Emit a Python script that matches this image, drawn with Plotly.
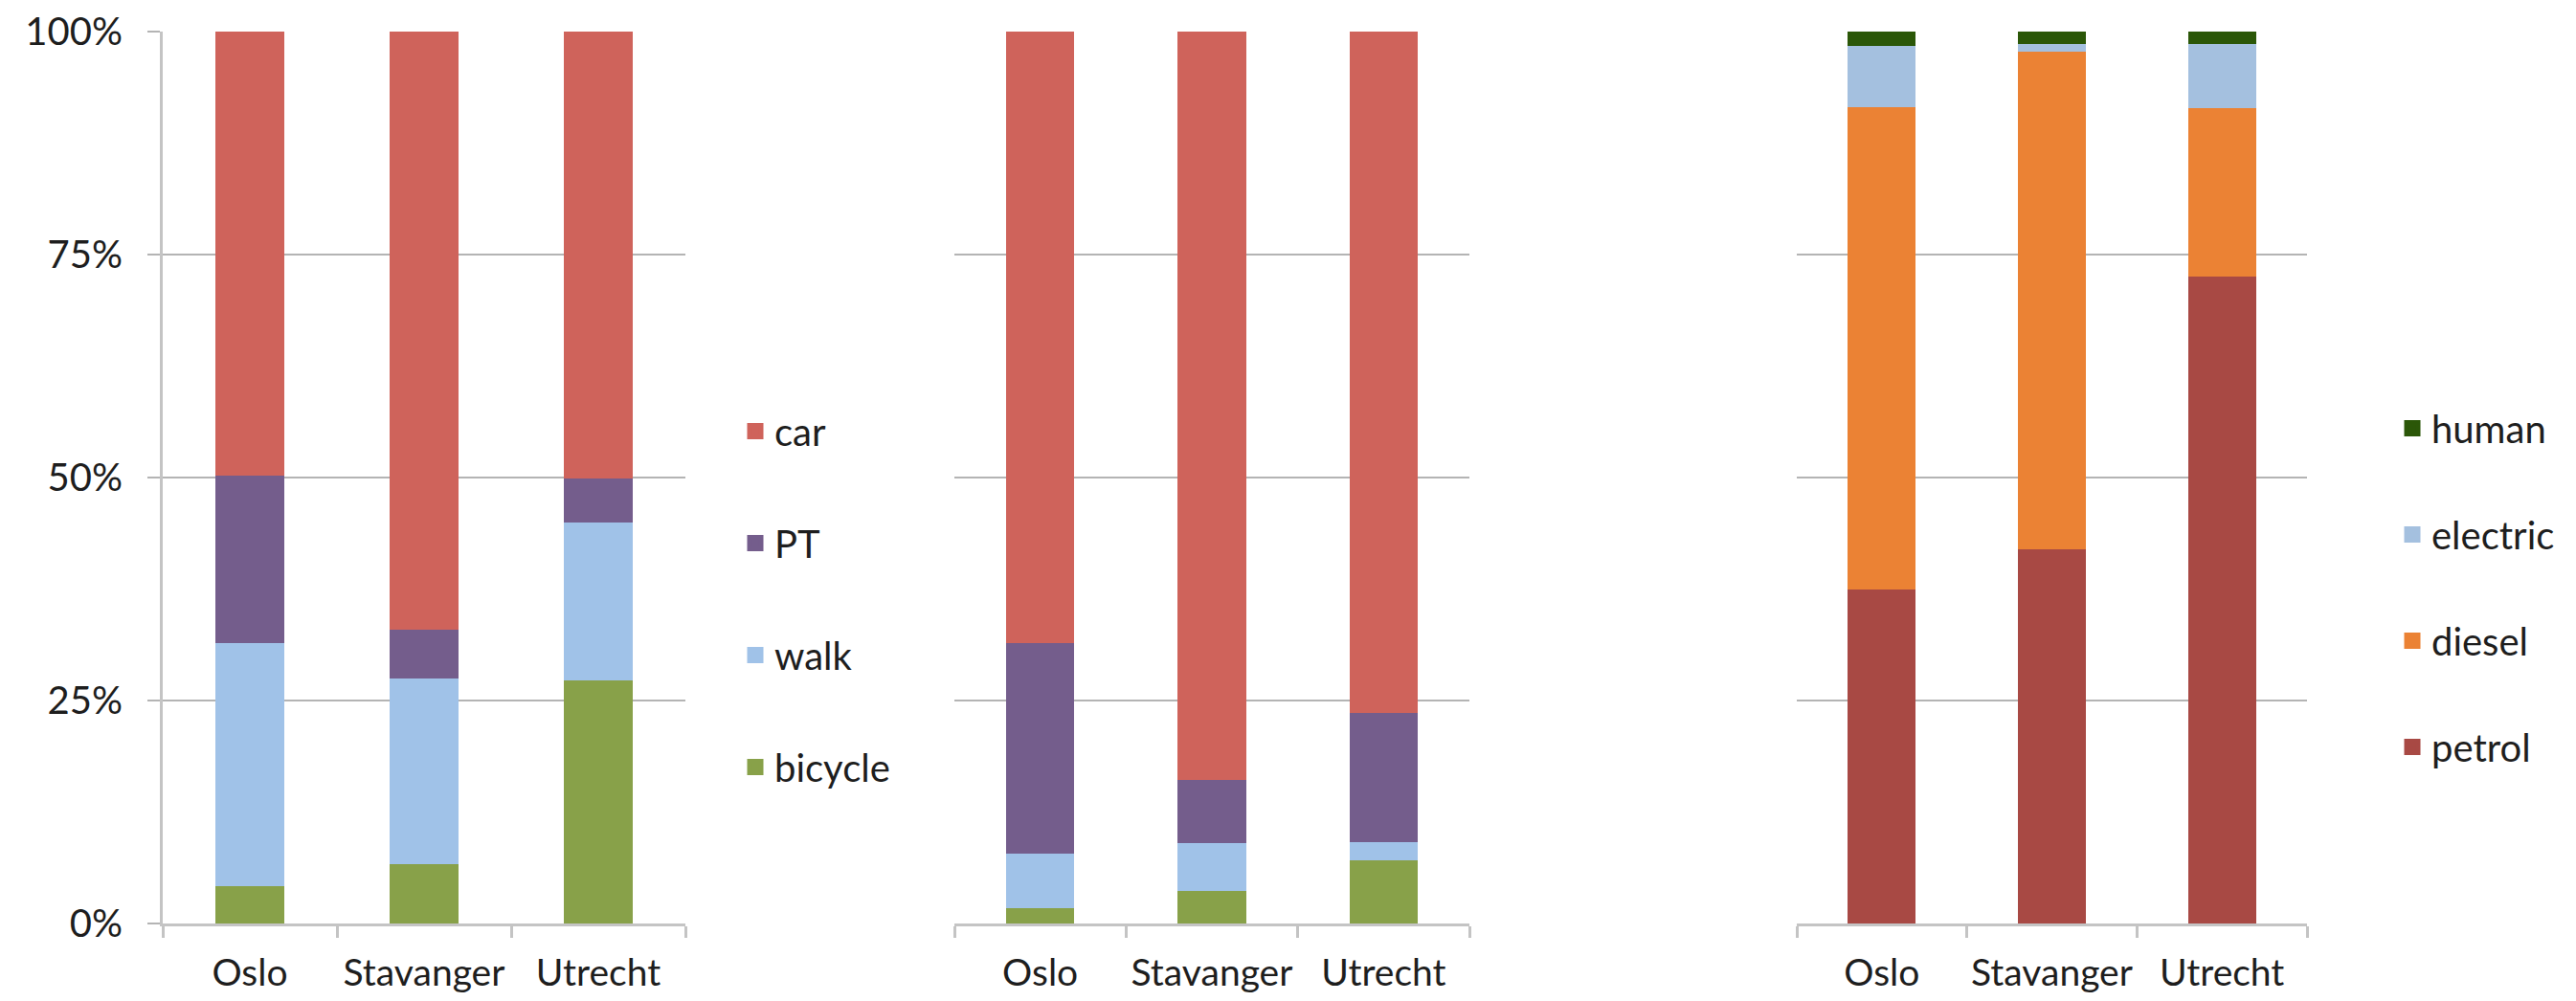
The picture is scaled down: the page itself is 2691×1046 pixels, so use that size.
import plotly.graph_objects as go

cities = ["Oslo", "Stavanger", "Utrecht"]

# Panel 1: mode share (%)
p1_bicycle = [4.4, 6.9, 27.5]
p1_walk = [27.3, 20.8, 17.7]
p1_pt = [18.8, 5.5, 5.0]
p1_car = [49.5, 66.8, 49.8]

# Panel 2: mode share (%)
p2_bicycle = [2.0, 3.9, 7.3]
p2_walk = [6.1, 5.4, 2.1]
p2_pt = [23.6, 7.1, 14.5]
p2_car = [68.3, 83.6, 76.1]

# Panel 3: energy source share (%)
p3_petrol = [37.7, 42.2, 72.8]
p3_diesel = [54.1, 55.8, 18.9]
p3_electric = [6.9, 0.9, 7.2]
p3_human = [1.3, 1.1, 1.1]

y_tickvals = [0, 25, 50, 75, 100]
y_ticktext = ["0%", "25%", "50%", "75%", "100%"]

C_CAR = "#CF635B"
C_PT = "#745D8C"
C_WALK = "#A0C2E8"
C_BIKE = "#88A149"
C_PETROL = "#A84944"
C_DIESEL = "#EB8234"
C_ELEC = "#A4C0DF"
C_HUMAN = "#2B5708"

W, H = 2691, 1046
FONT = "Lato"
TXT = "#1e1e1e"
GRID = "#b4b4b4"
AXL = "#c4c4c4"
BW = 0.37
LW = 5

fig = go.Figure()


def add_bar(name, vals, color, xa, ya, legend=None, rank=None):
    fig.add_trace(go.Bar(
        x=cities, y=vals, name=name, width=BW,
        marker=dict(color=color, line=dict(color=color, width=LW)),
        xaxis=xa, yaxis=ya,
        showlegend=legend is not None,
        legend=legend if legend else "legend",
        legendgroup=(legend or "none") + name,
        legendrank=rank if rank else 1000,
        hovertemplate="%{x}: %{y:.1f}%<extra>" + name + "</extra>",
    ))


for r, (nm, v, c) in enumerate([("bicycle", p1_bicycle, C_BIKE), ("walk", p1_walk, C_WALK),
                                ("PT", p1_pt, C_PT), ("car", p1_car, C_CAR)]):
    add_bar(nm, v, c, "x", "y", "legend", 10 - r)

for nm, v, c in [("bicycle", p2_bicycle, C_BIKE), ("walk", p2_walk, C_WALK),
                 ("PT", p2_pt, C_PT), ("car", p2_car, C_CAR)]:
    add_bar(nm, v, c, "x2", "y2", None)

for r, (nm, v, c) in enumerate([("petrol", p3_petrol, C_PETROL), ("diesel", p3_diesel, C_DIESEL),
                                ("electric", p3_electric, C_ELEC), ("human", p3_human, C_HUMAN)]):
    add_bar(nm, v, c, "x3", "y3", "legend2", 10 - r)

ydom = [1 - 965 / H, 1 - 33 / H]
xdoms = [[170 / W, 716 / W], [997 / W, 1535 / W], [1877 / W, 2410 / W]]

xaxis_common = dict(
    type="category", range=[-0.5, 2.5], showline=True, linecolor=AXL, linewidth=3,
    ticks="outside", tickson="boundaries", ticklen=12, tickwidth=3, tickcolor=AXL,
    showgrid=False, zeroline=False, fixedrange=True, automargin=False, tickangle=0,
    tickfont=dict(family=FONT, size=39, color=TXT), ticklabelstandoff=15,
)
yaxis_common = dict(
    range=[0, 100], tickvals=y_tickvals, showgrid=True, gridcolor=GRID, gridwidth=2,
    zeroline=False, fixedrange=True, automargin=False,
)

layout = dict(
    width=W, height=H, margin=dict(l=0, r=0, t=0, b=0, autoexpand=False),
    paper_bgcolor="white", plot_bgcolor="white", barmode="stack",
    font=dict(family=FONT, color=TXT),
    legend=dict(x=(789 - 20) / W, xanchor="left", y=1 - 418 / H, yanchor="top",
                traceorder="grouped", tracegroupgap=62,
                font=dict(family=FONT, size=40, color=TXT), bgcolor="rgba(0,0,0,0)"),
    legend2=dict(x=(2520 - 20) / W, xanchor="left", y=1 - 415 / H, yanchor="top",
                 traceorder="grouped", tracegroupgap=56,
                 font=dict(family=FONT, size=40, color=TXT), bgcolor="rgba(0,0,0,0)"),
)

for i, suf in enumerate(["", "2", "3"]):
    xa = dict(xaxis_common, domain=xdoms[i], anchor="y" + suf)
    if i == 0:
        ya = dict(yaxis_common, domain=ydom, anchor="x" + suf, showline=True,
                  linecolor=AXL, linewidth=3, ticks="outside", ticklen=13,
                  tickwidth=2, tickcolor=GRID, ticktext=y_ticktext,
                  showticklabels=True, ticklabelstandoff=18,
                  tickfont=dict(family=FONT, size=40, color=TXT))
    else:
        ya = dict(yaxis_common, domain=ydom, anchor="x" + suf, showline=False,
                  ticks="", showticklabels=False)
    layout["xaxis" + suf] = xa
    layout["yaxis" + suf] = ya

fig.update_layout(**layout)
fig.write_html("out.html")
